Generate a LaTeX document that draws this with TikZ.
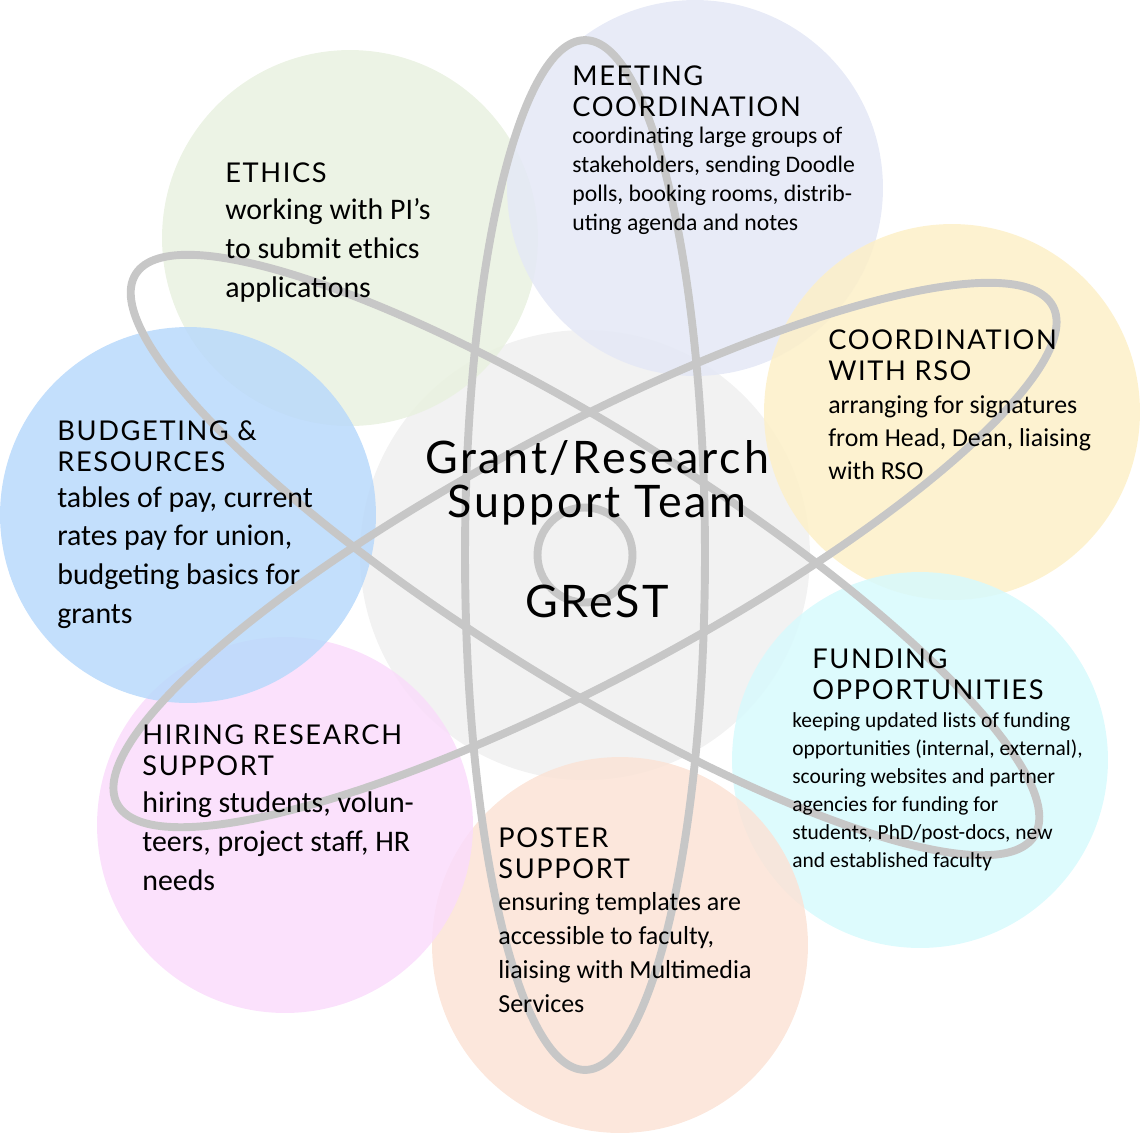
\documentclass[tikz,border=0pt]{standalone}
\usepackage{fontspec}
\setmainfont{Carlito}
\newfontfamily\tfont[LetterSpace=6]{Lato}
\begin{document}
\begin{tikzpicture}[x=0.02cm,y=-0.02cm,
  bub/.style={circle,minimum size=7.52cm,inner sep=0,fill opacity=0.85},
  orbit/.style={draw=black!22,line width=4.5pt},
  ttl/.style={anchor=base west,inner sep=0,align=left,font=\tfont\fontsize{15.5}{17.5}\selectfont},
  bdy/.style={anchor=base west,inner sep=0,align=left}]
\useasboundingbox (0,0) rectangle (1140,1137);
\node[circle,minimum size=9cm,inner sep=0,fill=black!5] (core) at (585,555) {};
\node[bub,fill={rgb,255:red,233;green,241;blue,224}] (eth) at (350,238) {};
\node[bub,fill={rgb,255:red,228;green,232;blue,246}] (meet) at (695,188) {};
\node[bub,fill={rgb,255:red,253;green,240;blue,200}] (rso) at (952,412) {};
\node[bub,fill={rgb,255:red,215;green,250;blue,253}] (fund) at (920,760) {};
\node[bub,fill={rgb,255:red,251;green,227;blue,214}] (post) at (620,945) {};
\node[bub,fill={rgb,255:red,250;green,220;blue,251}] (hire) at (285,825) {};
\node[bub,fill={rgb,255:red,185;green,217;blue,251}] (bud) at (188,515) {};
\coordinate (c) at (585,555);
\draw[orbit] (c) ellipse [x radius=2.4cm,y radius=10.3cm];
\draw[orbit,rotate around={-32:(c)}] (c) ellipse [x radius=10.6cm,y radius=2.5cm];
\draw[orbit,rotate around={28:(c)}] (c) ellipse [x radius=10.6cm,y radius=2.5cm];
\draw[orbit] (c) circle [radius=0.95cm];
\node[anchor=base,inner sep=0,align=center,font=\tfont\fontsize{25.5}{24.5}\selectfont] (ct) at (597,517) {Grant/Research\\Support Team};
\node[anchor=base,inner sep=0,font=\tfont\fontsize{25.5}{24.5}\selectfont] (cg) at (597,617) {GReST};
% ethics
\node[ttl] (t1) at (225,182) {ETHICS};
\node[bdy,font=\fontsize{17}{22}\selectfont] (b1) at (225,297) {working with PI’s\\to submit ethics\\applications};
% meeting
\node[ttl] (t2) at (572,116) {MEETING\\COORDINATION};
\node[bdy,font=\fontsize{13.5}{16.5}\selectfont] (b2) at (572,230) {coordinating large groups of\\stakeholders, sending Doodle\\polls, booking rooms, distrib-\\uting agenda and notes};
% rso
\node[ttl] (t3) at (828,380) {COORDINATION\\WITH RSO};
\node[bdy,font=\fontsize{14.7}{18.7}\selectfont] (b3) at (828,479) {arranging for signatures\\from Head, Dean, liaising\\with RSO};
% budget
\node[ttl] (t4) at (57,471) {BUDGETING \&\\RESOURCES};
\node[bdy,font=\fontsize{17}{22}\selectfont] (b4) at (57,623) {tables of pay, current\\rates pay for union,\\budgeting basics for\\grants};
% funding
\node[ttl] (t5) at (812,699) {FUNDING\\OPPORTUNITIES};
\node[bdy,font=\fontsize{12.2}{15.9}\selectfont] (b5) at (792,867) {keeping updated lists of funding\\opportunities (internal, external),\\scouring websites and partner\\agencies for funding for\\students, PhD/post-docs, new\\and established faculty};
% hiring
\node[ttl] (t6) at (142,775) {HIRING RESEARCH\\SUPPORT};
\node[bdy,font=\fontsize{17}{22}\selectfont] (b6) at (142,890) {hiring students, volun-\\teers, project staff, HR\\needs};
% poster
\node[ttl] (t7) at (498,878) {POSTER\\SUPPORT};
\node[bdy,font=\fontsize{14.8}{19.2}\selectfont] (b7) at (498,1012) {ensuring templates are\\accessible to faculty,\\liaising with Multimedia\\Services};
\end{tikzpicture}
\end{document}
